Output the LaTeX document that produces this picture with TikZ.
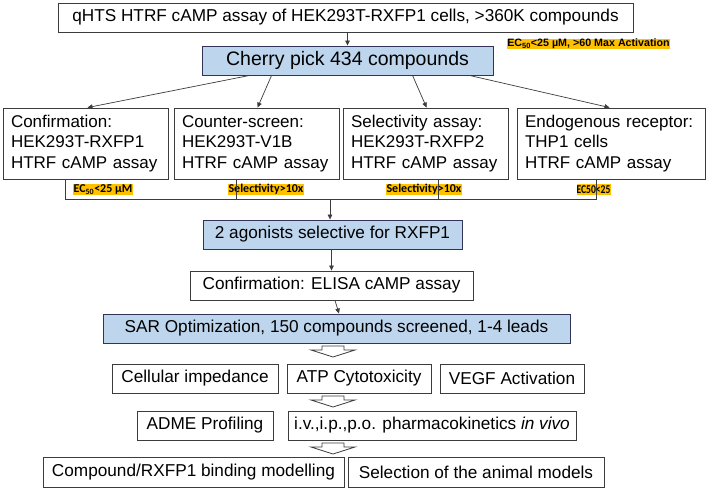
\documentclass[tikz,border=0pt]{standalone}
\usepackage{fontspec}
\setmainfont{Liberation Sans}
\newfontfamily\labfont{Carlito}
\usetikzlibrary{arrows.meta,calc}
\definecolor{boxblue}{RGB}{190,214,237}
\definecolor{labyellow}{RGB}{255,192,0}
\definecolor{edge}{RGB}{60,60,60}
\hyphenpenalty=10000
\exhyphenpenalty=10000
\newcommand\hollowarr[2]{\draw[harrow] (#1-11,#2) -- (#1+11,#2) -- (#1+11,#2+4) -- (#1+22,#2+4) -- (#1,#2+11) -- (#1-22,#2+4) -- (#1-11,#2+4) -- cycle;}
\begin{document}
\begin{tikzpicture}[x=1pt,y=-1pt,
  box/.style={draw=edge, line width=0.9pt, inner sep=0pt, font=\fontsize{17.2}{20.5}\selectfont},
  multibox/.style={box, font=\fontsize{17}{20.5}\selectfont, align=left, minimum height=71},
  bluebox/.style={box, fill=boxblue, draw=edge!85!blue},
  lab/.style={fill=labyellow, inner sep=0pt, font=\labfont\bfseries\fontsize{12}{12}\selectfont},
  toplab/.style={fill=labyellow, inner sep=0pt, font=\bfseries\fontsize{10.7}{10.7}\selectfont},
  arr/.style={draw=edge, line width=0.7pt, -{Triangle[length=5pt,width=4.5pt]}},
  link/.style={draw=edge, line width=0.7pt},
  harrow/.style={draw=edge, line width=0.8pt, fill=white, line join=miter}]
\useasboundingbox[fill=white] (0,0) rectangle (709,490);

% top
\node[box, minimum width=575, minimum height=29] (screen) at (345.5,17.5) {qHTS HTRF cAMP assay of HEK293T-RXFP1 cells, >360K compounds};
\node[bluebox, minimum width=291, minimum height=29, font=\fontsize{19.5}{22}\selectfont] (cherry) at (347.5,60.5) {Cherry pick 434 compounds};
\node[toplab, minimum width=163, minimum height=10] (tl) at (588.5,44) {EC\textsubscript{50}<25 µM, >60 Max Activation};

% four assays
\node[multibox, minimum width=165, text width=149] (conf) at (85.5,143.5) {Confirmation:\\HEK293T-RXFP1\\HTRF cAMP assay};
\node[multibox, minimum width=165, text width=149] (counter) at (256.5,143.5) {Counter-screen:\\HEK293T-V1B\\HTRF cAMP assay};
\node[multibox, minimum width=165, text width=149] (sel) at (425.5,143.5) {Selectivity assay:\\HEK293T-RXFP2\\HTRF cAMP assay};
\node[multibox, minimum width=188, text width=172] (endo) at (611,143.5) {Endogenous receptor:\\THP1 cells\\HTRF cAMP assay};

% labels
\node[lab, minimum width=60, minimum height=11] (l1) at (103,189.5) {EC\textsubscript{50}<25 µM};
\node[lab, minimum width=76, minimum height=11] (l2) at (266,189.5) {Selectivity>10x};
\node[lab, minimum width=76, minimum height=11] (l3) at (424,189.5) {Selectivity>10x};
\node[lab, minimum width=34, minimum height=11] (l4) at (593.5,189.5) {\scalebox{0.8}[1]{EC50<25}};

% arrows from cherry
\draw[arr] (cherry.north |- screen.south) -- (cherry.north);
\draw[arr] ([xshift=48pt]cherry.south west) -- ([xshift=85pt]conf.north west);
\draw[arr] ([xshift=70pt]cherry.south west) -- ([xshift=84pt]counter.north west);
\draw[arr] ([xshift=211pt]cherry.south west) -- ([xshift=84pt]sel.north west);
\draw[arr] ([xshift=268pt]cherry.south west) -- ([xshift=93pt]endo.north west);

% middle chain
\node[bluebox, minimum width=259, minimum height=29] (agon) at (332.5,234.5) {2 agonists selective for RXFP1};
\node[box, minimum width=283, minimum height=29] (elisa) at (331.5,285.5) {Confirmation: ELISA cAMP assay};
\node[bluebox, minimum width=467, minimum height=29] (sar) at (336.5,328.5) {SAR Optimization, 150 compounds screened, 1-4 leads};

% bracket
\coordinate (j1) at (65,199);
\coordinate (j2) at (236,199);
\coordinate (j3) at (438,199);
\coordinate (j4) at (596,199);
\coordinate (jm) at (330,199);
\draw[link] (conf.south -| j1) -- (j1) -- (j4) -- (endo.south -| j4);
\draw[link] (counter.south -| j2) -- (j2);
\draw[link] (sel.south -| j3) -- (j3);
\draw[arr] (jm) -- (agon.north -| jm);
\draw[arr] (elisa.north |- agon.south) -- (elisa.north);
\draw[arr] ([xshift=3.5pt]elisa.south) -- ([xshift=2.5pt]sar.north);

% lower rows
\node[box, minimum width=166, minimum height=29] (cell) at (195,378.5) {Cellular impedance};
\node[box, minimum width=144, minimum height=29] (atp) at (359,378.5) {ATP Cytotoxicity};
\node[box, minimum width=144, minimum height=29] (vegf) at (512,378.5) {VEGF Activation};
\node[box, minimum width=136, minimum height=29] (adme) at (205,425.5) {ADME Profiling};
\node[box, minimum width=288, minimum height=29] (pk) at (432,425.5) {i.v.,i.p.,p.o. pharmacokinetics \textit{in vivo}};
\node[box, minimum width=301, minimum height=30] (bind) at (193.5,472) {Compound/RXFP1 binding modelling};
\node[box, minimum width=256, minimum height=30] (animal) at (476,472) {Selection of the animal models};

\hollowarr{333}{346}
\hollowarr{333}{396}
\hollowarr{333}{443}
\end{tikzpicture}
\end{document}
